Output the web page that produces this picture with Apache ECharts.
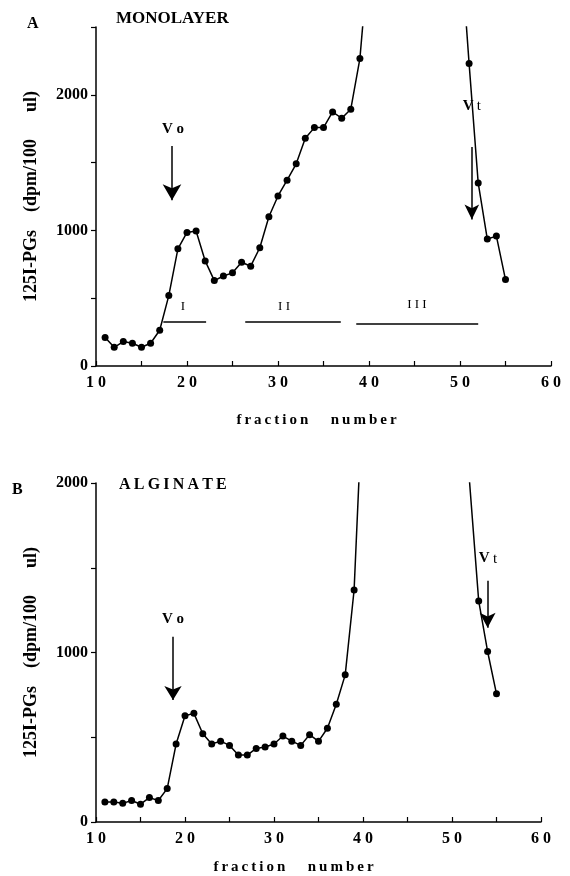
<!DOCTYPE html>
<html>
<head>
<meta charset="utf-8">
<script src="https://cdn.jsdelivr.net/npm/echarts@6/dist/echarts.min.js"></script>
<style>
html,body{margin:0;padding:0;background:#fff}
#main{width:570px;height:876px}
</style>
</head>
<body>
<div id="main"></div>
<script>
// panel A (monolayer) - fractions 40 and 50 are off scale, the top of the peak is cut
var monoFractions = [11,12,13,14,15,16,17,18,19,20,21,22,23,24,25,26,27,28,29,30,31,32,33,34,35,36,37,38,39,40,50,51,52,53,54,55];
var monoValues = [210,138,180,168,138,168,264,519,864,985,995,775,630,664,687,765,736,872,1101,1254,1370,1491,1679,1758,1758,1874,1827,1894,2267,3050,3160,2230,1350,936,958,637];

// panel B (alginate)
var algFractions = [11,12,13,14,15,16,17,18,19,20,21,22,23,24,25,26,27,28,29,30,31,32,33,34,35,36,37,38,39,40,51,53,54,55];
var algValues = [118,118,110,127,105,144,127,197,460,627,641,521,460,477,452,395,395,434,442,460,507,477,452,515,476,553,695,868,1369,2560,2670,1304,1006,756];

var yMaxA = 2500;
var yMaxB = 2000;
var poolNames = ['I', 'I I', 'I I I'];
var poolRanges = [[17.4, 22.1], [26.4, 36.9], [38.6, 52.0]];

var font = 'Liberation Serif';
var thin = '\u2009';

function spaced(s) {
    return s.split('').join(thin);
}

function pairs(xs, ys) {
    var out = [];
    for (var i = 0; i < xs.length; i++) {
        out.push([xs[i], ys[i]]);
    }
    return out;
}

function xAxisFor(idx, gap, shift) {
    return {
        type: 'value', gridIndex: idx, min: 10, max: 60, interval: 5,
        name: spaced('fraction') + '      ' + spaced('number'),
        nameLocation: 'middle', nameGap: gap,
        nameTextStyle: {color: '#000', fontFamily: font, fontWeight: 'bold', fontSize: 15, padding: [0, shift, 0, 0]},
        axisLine: {onZero: false, lineStyle: {color: '#000', width: 1.5}},
        axisTick: {inside: true, length: 5, lineStyle: {color: '#000', width: 1.2}},
        axisLabel: {
            color: '#000', fontFamily: font, fontWeight: 'bold', fontSize: 16, margin: 9,
            formatter: function (v) { return v % 10 === 0 ? String(v).split('').join(' ') : ''; }
        },
        splitLine: {show: false}
    };
}

function yAxisFor(idx, max) {
    return {
        type: 'value', gridIndex: idx, min: 0, max: max, interval: 500,
        name: '125I-PGs    (dpm/100      ul)',
        nameLocation: 'middle', nameGap: 56,
        nameTextStyle: {color: '#000', fontFamily: font, fontWeight: 'bold', fontSize: 18},
        axisLine: {lineStyle: {color: '#000', width: 1.5}},
        axisTick: {length: 5, lineStyle: {color: '#000', width: 1.2}},
        axisLabel: {
            color: '#000', fontFamily: font, fontWeight: 'bold', fontSize: 16, margin: 8,
            formatter: function (v) { return v % 1000 === 0 ? String(v) : ''; }
        },
        splitLine: {show: false}
    };
}

function arrow(x, top, tip, size) {
    return [
        {coord: [x, top], symbol: 'none'},
        {coord: [x, tip], symbol: 'arrow', symbolSize: size}
    ];
}

function bar(r, y) {
    return [
        {coord: [r[0], y], symbol: 'none'},
        {coord: [r[1], y], symbol: 'none'}
    ];
}

var labelRich = {
    b: {fontFamily: font, fontWeight: 'bold', fontSize: 15, color: '#000'},
    n: {fontFamily: font, fontWeight: 'normal', fontSize: 15, color: '#000'},
    r: {fontFamily: font, fontWeight: 'normal', fontSize: 13, color: '#000'}
};

var markLineBase = {
    silent: true, animation: false,
    symbol: ['none', 'none'],
    label: {show: false},
    lineStyle: {color: '#000', width: 1.5, type: 'solid'},
    emphasis: {disabled: true}
};

var markPointBase = {
    silent: true, animation: false,
    symbol: 'circle', symbolSize: 0,
    itemStyle: {color: 'transparent'},
    label: {show: true, position: 'inside', rich: labelRich, formatter: function (p) { return p.name; }}
};

var myChart = echarts.init(document.getElementById('main'));

var option = {
    animation: false,
    title: [
        {text: 'A', left: 22, top: 11, textStyle: {fontFamily: font, fontWeight: 'bold', fontSize: 16, color: '#000'}},
        {text: 'MONOLAYER', left: 111, top: 5, textStyle: {fontFamily: font, fontWeight: 'bold', fontSize: 17, color: '#000'}},
        {text: 'B', left: 7, top: 477, textStyle: {fontFamily: font, fontWeight: 'bold', fontSize: 16, color: '#000'}}
    ],
    grid: [
        {left: 96, top: 27, width: 455, height: 339},
        {left: 96, top: 483, width: 445, height: 339}
    ],
    xAxis: [xAxisFor(0, 47, 14), xAxisFor(1, 38, 50)],
    yAxis: [yAxisFor(0, yMaxA), yAxisFor(1, yMaxB)],
    graphic: [
        {type: 'text', left: 119, top: 477, style: {text: spaced('ALGINATE'), fill: '#000', font: 'bold 16px "Liberation Serif"'}}
    ],
    series: [
        {
            type: 'line', xAxisIndex: 0, yAxisIndex: 0,
            data: pairs(monoFractions, monoValues),
            symbol: 'circle', symbolSize: 7, showSymbol: true, clip: true,
            itemStyle: {color: '#000'},
            lineStyle: {color: '#000', width: 1.5},
            markLine: Object.assign({}, markLineBase, {
                data: [
                    arrow(18.35, 1622, 1222, [14, 16]),
                    arrow(51.3, 1615, 1081, [11, 15]),
                    bar(poolRanges[0], 326),
                    bar(poolRanges[1], 326),
                    bar(poolRanges[2], 311)
                ]
            }),
            markPoint: Object.assign({}, markPointBase, {
                data: [
                    {name: '{b|V o}', coord: [18.46, 1748]},
                    {name: '{b|V} {n|t}', coord: [51.3, 1919]},
                    {name: '{r|' + poolNames[0] + '}', coord: [19.56, 437]},
                    {name: '{r|' + poolNames[1] + '}', coord: [30.66, 437]},
                    {name: '{r|' + poolNames[2] + '}', coord: [45.27, 452]}
                ]
            })
        },
        {
            type: 'line', xAxisIndex: 1, yAxisIndex: 1,
            data: pairs(algFractions, algValues),
            symbol: 'circle', symbolSize: 7, showSymbol: true, clip: true,
            itemStyle: {color: '#000'},
            lineStyle: {color: '#000', width: 1.5},
            markLine: Object.assign({}, markLineBase, {
                data: [
                    arrow(18.65, 1093, 720, [13, 14]),
                    arrow(54.0, 1424, 1146, [12, 15])
                ]
            }),
            markPoint: Object.assign({}, markPointBase, {
                data: [
                    {name: '{b|V o}', coord: [18.65, 1199]},
                    {name: '{b|V} {n|t}', coord: [54.04, 1554]}
                ]
            })
        }
    ]
};

myChart.setOption(option);
</script>
</body>
</html>
